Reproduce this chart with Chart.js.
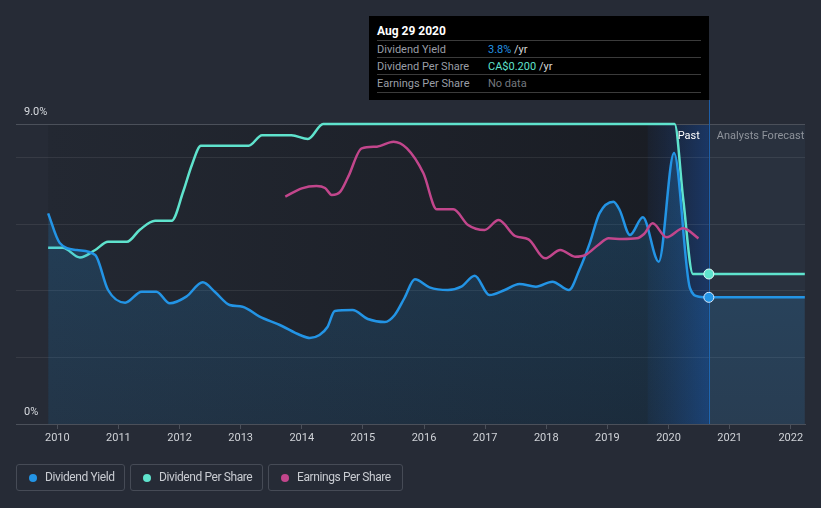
<!DOCTYPE html>
<html>
<head>
<meta charset="utf-8">
<script src="https://cdn.jsdelivr.net/npm/chart.js@4.4.1/dist/chart.umd.min.js"></script>
<style>
  html, body { margin: 0; padding: 0; background: #262b36; }
  #wrap { position: relative; width: 821px; height: 508px; font-family: Roboto, sans-serif; overflow: hidden; }
  #chart { position: absolute; left: 0; top: 0; }
  .tip { position: absolute; left: 369px; top: 16px; width: 340px; height: 84px; background: #000; }
  .tip .title { position: absolute; left: 8px; top: 8px; font-size: 12px; line-height: 14px; font-weight: bold; color: #fff; }
  .tip .row { position: absolute; left: 8px; width: 324px; height: 17px; border-top: 1px solid #3b3b3b; font-size: 11px; line-height: 17px; color: #9a9ea6; }
  .tip .row.last { border-bottom: 1px solid #3b3b3b; }
  .tip .val { position: absolute; left: 111px; top: 0; color: #d8d8d8; }
  .legend { position: absolute; top: 464px; height: 25px; border: 1px solid #464b56; border-radius: 3px; font-size: 12px; letter-spacing: -0.4px; line-height: 25px; color: #c9ccd2; }
  .legend i { position: absolute; left: 12px; top: 9px; width: 8px; height: 8px; border-radius: 50%; }
  .legend span { position: absolute; left: 28px; white-space: nowrap; }
</style>
</head>
<body>
<div id="wrap">
  <canvas id="chart" width="821" height="508"></canvas>
  <div class="tip">
    <div class="title">Aug 29 2020</div>
    <div class="row" style="top:24px">Dividend Yield<span class="val"><span style="color:#2394e5">3.8%</span> /yr</span></div>
    <div class="row" style="top:41px">Dividend Per Share<span class="val"><span style="color:#5fe3cd">CA$0.200</span> /yr</span></div>
    <div class="row last" style="top:58px">Earnings Per Share<span class="val" style="color:#74787f">No data</span></div>
  </div>
  <div class="legend" style="left:16px; width:107px"><i style="background:#2394e5"></i><span>Dividend Yield</span></div>
  <div class="legend" style="left:130px; width:131px"><i style="background:#5fe3cd"></i><span>Dividend Per Share</span></div>
  <div class="legend" style="left:268px; width:133px"><i style="background:#c2468c"></i><span>Earnings Per Share</span></div>
</div>
<script>
const yearTicks = [2010, 2011, 2012, 2013, 2014, 2015, 2016, 2017, 2018, 2019, 2020, 2021, 2022];
const nowYear = 2020.66;
const pastStart = 2019.66;

// dividend yield, %
const yieldYears = [2009.85, 2010.04, 2010.32, 2010.62, 2010.83, 2011.11, 2011.38, 2011.62, 2011.84, 2012.11,
  2012.38, 2012.58, 2012.82, 2013.03, 2013.31, 2013.64, 2013.97, 2014.13, 2014.29, 2014.42,
  2014.54, 2014.83, 2015.08, 2015.36, 2015.52, 2015.68, 2015.85, 2016.09, 2016.39, 2016.61,
  2016.83, 2017.07, 2017.32, 2017.56, 2017.83, 2018.10, 2018.37, 2018.54, 2018.71, 2018.87,
  2019.10, 2019.20, 2019.37, 2019.58, 2019.84, 2020.09, 2020.35, 2020.50, 2020.66, 2022.23];
const yieldValues = [6.32, 5.43, 5.22, 5.07, 4.02, 3.64, 3.97, 3.97, 3.62, 3.82,
  4.25, 3.96, 3.57, 3.52, 3.22, 2.97, 2.67, 2.58, 2.67, 2.91,
  3.39, 3.42, 3.15, 3.06, 3.27, 3.78, 4.34, 4.10, 4.02, 4.12,
  4.45, 3.87, 4.02, 4.20, 4.12, 4.27, 4.02, 4.62, 5.42, 6.32,
  6.67, 6.42, 5.67, 6.20, 4.87, 8.13, 4.08, 3.82, 3.8, 3.8];

// dividend per share, CA$
const dpsYears = [2009.85, 2010.09, 2010.37, 2010.62, 2010.83, 2011.14, 2011.35, 2011.60, 2011.87, 2012.06,
  2012.20, 2012.35, 2013.13, 2013.35, 2013.83, 2014.10, 2014.35, 2020.10, 2020.24, 2020.40, 2020.66, 2022.23];
const dpsValues = [0.235, 0.235, 0.222, 0.232, 0.243, 0.243, 0.259, 0.271, 0.271, 0.31,
  0.345, 0.371, 0.371, 0.385, 0.385, 0.38, 0.40, 0.40, 0.30, 0.20, 0.20, 0.20];

// earnings per share, CA$
const epsYears = [2013.73, 2014.00, 2014.24, 2014.38, 2014.49, 2014.63, 2014.76, 2014.98, 2015.23, 2015.50,
  2015.72, 2015.99, 2016.21, 2016.48, 2016.72, 2016.99, 2017.22, 2017.49, 2017.71, 2017.98,
  2018.23, 2018.47, 2018.64, 2018.85, 2019.02, 2019.24, 2019.48, 2019.60, 2019.74, 2019.97,
  2020.24, 2020.49];
const epsValues = [0.682, 0.707, 0.714, 0.708, 0.687, 0.697, 0.742, 0.827, 0.832, 0.847,
  0.827, 0.752, 0.644, 0.644, 0.597, 0.582, 0.612, 0.564, 0.554, 0.497,
  0.522, 0.502, 0.507, 0.537, 0.557, 0.555, 0.557, 0.57, 0.602, 0.56,
  0.587, 0.557];

const yieldGridTicks = [0, 2, 4, 6, 8, 9];

function points(xs, ys) {
  return xs.map((x, i) => ({ x: x, y: ys[i] }));
}

const nowRadius = (ctx) => (ctx.raw && ctx.raw.x === nowYear ? 5 : 0);

const backdrop = {
  id: "backdrop",
  beforeDraw(chart) {
    const { ctx, chartArea: a, scales } = chart;
    const x0 = scales.x.getPixelForValue(yieldYears[0]);
    const xp = scales.x.getPixelForValue(pastStart);
    const xn = scales.x.getPixelForValue(nowYear);
    ctx.save();
    ctx.fillStyle = "#262b36";
    ctx.fillRect(0, 0, chart.width, chart.height);
    // past region
    let g = ctx.createLinearGradient(x0, 0, xn, 0);
    g.addColorStop(0, "#232832");
    g.addColorStop(1, "#191c23");
    ctx.fillStyle = g;
    ctx.fillRect(x0, a.top, xn - x0, a.bottom - a.top);
    // last 12 months
    g = ctx.createLinearGradient(xp, 0, xn, 0);
    g.addColorStop(0, "rgba(30,80,160,0.08)");
    g.addColorStop(1, "rgba(28,90,190,0.42)");
    ctx.fillStyle = g;
    ctx.fillRect(xp, a.top, xn - xp, a.bottom - a.top);
    // forecast
    ctx.fillStyle = "#29313e";
    ctx.fillRect(xn, a.top, a.right - xn, a.bottom - a.top);
    ctx.restore();
  },
  beforeDatasetsDraw(chart) {
    const { ctx, chartArea: a, scales } = chart;
    const xn = Math.round(scales.x.getPixelForValue(nowYear)) + 0.5;
    ctx.save();
    ctx.strokeStyle = "#1d5ea8";
    ctx.lineWidth = 1;
    ctx.beginPath();
    ctx.moveTo(xn, 100);
    ctx.lineTo(xn, a.bottom);
    ctx.stroke();
    ctx.restore();
  },
  afterDraw(chart) {
    const { ctx, chartArea: a, scales } = chart;
    const xn = scales.x.getPixelForValue(nowYear);
    ctx.save();
    ctx.font = "11px Roboto";
    ctx.textBaseline = "middle";
    ctx.fillStyle = "#d8dbe0";
    ctx.textAlign = "left";
    ctx.fillText("9.0%", 24, scales.y.getPixelForValue(9) - 12);
    ctx.fillText("0%", 24, scales.y.getPixelForValue(0) - 12);
    ctx.fillStyle = "#ffffff";
    ctx.textAlign = "right";
    ctx.fillText("Past", xn - 9, a.top + 12);
    ctx.fillStyle = "#8e939b";
    ctx.textAlign = "left";
    ctx.fillText("Analysts Forecast", xn + 8, a.top + 12);
    ctx.restore();
  },
};

const config = {
  type: "line",
  data: {
    datasets: [
      {
        label: "Earnings Per Share",
        data: points(epsYears, epsValues),
        yAxisID: "yEps",
        borderColor: "#c2468c",
        borderWidth: 2.5,
        pointRadius: 0,
        cubicInterpolationMode: "monotone",
        fill: false,
        clip: 4,
      },
      {
        label: "Dividend Yield",
        data: points(yieldYears, yieldValues),
        yAxisID: "y",
        borderColor: "#2394e5",
        borderWidth: 2.5,
        pointRadius: nowRadius,
        pointBackgroundColor: "#2394e5",
        pointBorderColor: "#d6ebff",
        pointBorderWidth: 1,
        cubicInterpolationMode: "monotone",
        fill: "origin",
        backgroundColor: (ctx) => {
          const a = ctx.chart.chartArea;
          if (!a) return "rgba(35,148,229,0.18)";
          const g = ctx.chart.ctx.createLinearGradient(0, a.top, 0, a.bottom);
          g.addColorStop(0, "rgba(35,148,229,0.24)");
          g.addColorStop(1, "rgba(35,148,229,0.12)");
          return g;
        },
        clip: 4,
      },
      {
        label: "Dividend Per Share",
        data: points(dpsYears, dpsValues),
        yAxisID: "yDps",
        borderColor: "#5fe3cd",
        borderWidth: 2.5,
        pointRadius: nowRadius,
        pointBackgroundColor: "#5fe3cd",
        pointBorderColor: "#e0fff9",
        pointBorderWidth: 1,
        cubicInterpolationMode: "monotone",
        fill: false,
        clip: 4,
      },
    ],
  },
  plugins: [backdrop],
  options: {
    responsive: false,
    animation: false,
    events: [],
    layout: { padding: { left: 16, right: 16, top: 124, bottom: 0 } },
    plugins: {
      legend: { display: false },
      tooltip: { enabled: false },
    },
    scales: {
      x: {
        type: "linear",
        min: 2009.324,
        max: 2022.233,
        afterBuildTicks: (axis) => {
          axis.ticks = yearTicks.map((v) => ({ value: v }));
        },
        afterFit: (axis) => {
          axis.height = 84;
        },
        ticks: {
          color: "#d0d3d8",
          font: { family: "Roboto", size: 11 },
          padding: 3,
          maxRotation: 0,
          autoSkip: false,
          callback: (v) => String(v),
        },
        grid: {
          display: true,
          drawOnChartArea: false,
          drawTicks: true,
          tickLength: 5,
          color: "#4b505a",
        },
        border: { display: true, color: "#4b505a" },
      },
      y: {
        min: 0,
        max: 9,
        afterBuildTicks: (axis) => {
          axis.ticks = yieldGridTicks.map((v) => ({ value: v }));
        },
        ticks: { display: false },
        grid: {
          drawTicks: false,
          color: (ctx) => {
            if (ctx.tick.value === 9) return "#4b505a";
            if (ctx.tick.value === 0) return "rgba(0,0,0,0)";
            return "rgba(255,255,255,0.08)";
          },
        },
        border: { display: false },
      },
      yDps: { display: false, min: 0, max: 0.4 },
      yEps: { display: false, min: 0, max: 0.9 },
    },
  },
};

const myChart = new Chart(document.getElementById("chart"), config);
</script>
</body>
</html>
